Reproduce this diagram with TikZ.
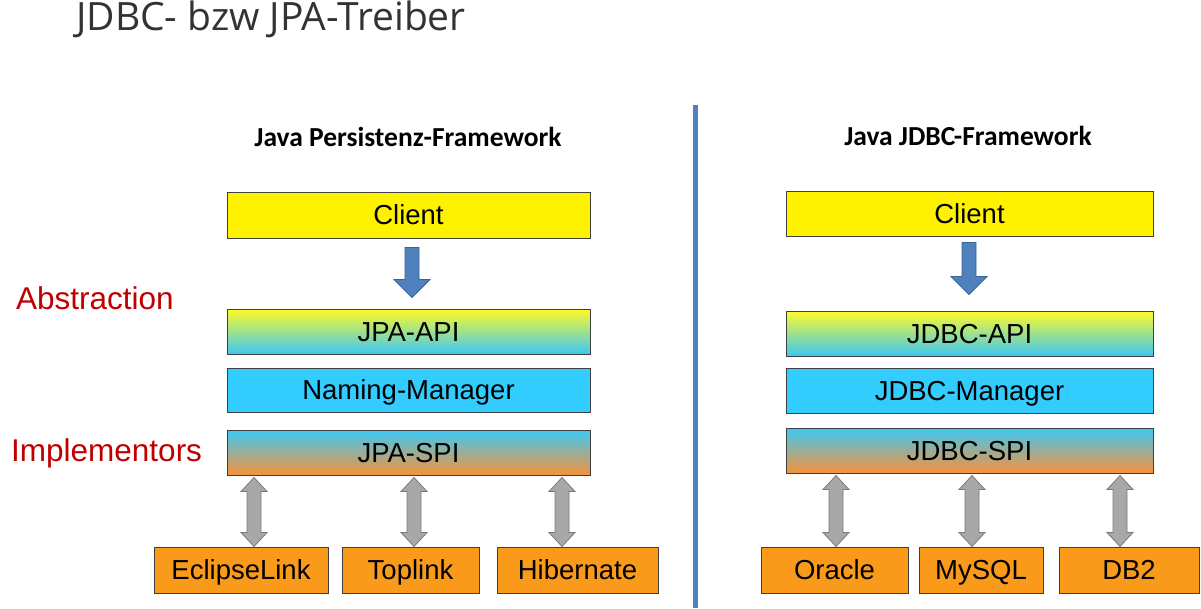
\documentclass[tikz,border=0pt]{standalone}
\usepackage{fontspec}
\setmainfont{Liberation Sans}
\newfontfamily\titlefont{Open Sans}
\newfontfamily\headfont{Carlito}
\usetikzlibrary{calc}
\definecolor{boxborder}{HTML}{404040}
\definecolor{skyblue}{HTML}{33CCFF}
\definecolor{orangebox}{HTML}{FA9A1A}
\definecolor{redlabel}{HTML}{C00000}
\definecolor{arrowblue}{HTML}{4F81BD}
\definecolor{arrowblueb}{HTML}{3A6496}
\definecolor{arrowgray}{HTML}{A8A8A8}
\definecolor{arrowgrayb}{HTML}{7A7A7A}
\definecolor{divider}{HTML}{4F81BD}
\definecolor{titlegray}{HTML}{333333}
\tikzset{
  layer/.style={draw=boxborder, line width=1pt, inner sep=0pt, text=black,
    font=\fontsize{27.5}{32}\selectfont, text height=19.7pt, text depth=0pt},
  yellowbox/.style={layer, fill=yellow},
  apibox/.style={layer, top color={rgb,255:red,255;green,250;blue,40},
    middle color={rgb,255:red,175;green,232;blue,205},
    bottom color={rgb,255:red,60;green,200;blue,245}},
  bluebox/.style={layer, fill=skyblue},
  spibox/.style={layer, top color={rgb,255:red,60;green,200;blue,245},
    middle color={rgb,255:red,200;green,170;blue,160},
    bottom color={rgb,255:red,248;green,146;blue,58}},
  implbox/.style={layer, fill=orangebox},
  sidelabel/.style={anchor=west, text=redlabel, inner sep=0pt,
    font=\fontsize{31.5}{36}\selectfont},
  header/.style={font=\headfont\bfseries\fontsize{27.5}{32}\selectfont, inner sep=0pt},
  grayarrow/.style={fill=arrowgray, draw=arrowgrayb, line width=0.8pt, line join=miter},
  bluearrow/.style={fill=arrowblue, draw=arrowblueb, line width=0.8pt, line join=miter}
}
% fat double arrow between two named coordinates (top, bottom)
\newcommand\fatdbl[2]{%
  \draw[grayarrow] (#1) -- ($(#1)+(13,14)$) -- ($(#1)+(7,14)$) -- ($(#2)+(7,-14)$)
    -- ($(#2)+(13,-14)$) -- (#2) -- ($(#2)+(-13,-14)$) -- ($(#2)+(-7,-14)$)
    -- ($(#1)+(-7,14)$) -- ($(#1)+(-13,14)$) -- cycle;}
% fat down arrow between two named coordinates (top of shaft, tip)
\newcommand\fatdown[2]{%
  \draw[bluearrow] ($(#1)+(-7,0)$) -- ($(#1)+(7,0)$) -- ($(#2)+(7,-18)$)
    -- ($(#2)+(18,-18)$) -- (#2) -- ($(#2)+(-18,-18)$) -- ($(#2)+(-7,-18)$) -- cycle;}
\begin{document}
\begin{tikzpicture}[x=1pt,y=-1pt]
\useasboundingbox[fill=white] (0,0) rectangle (1201,608);

% main title
\node[anchor=west, inner sep=0pt, text=titlegray,
  font=\titlefont\fontsize{39}{44}\selectfont] (title) at (76,19) {JDBC- bzw JPA-Treiber};

% divider
\coordinate (divtop) at (695,105);
\coordinate (divbot) at (695,608);
\draw[divider, line width=5pt] (divtop) -- (divbot);

% ---------- left panel ----------
\node[header] (lhead) at (408,137) {Java Persistenz-Framework};
\node[yellowbox, minimum width=363pt, minimum height=46pt] (lclient) at (408.5,215) {Client};
\node[apibox, minimum width=363pt, minimum height=45pt] (lapi) at (408.5,331.5) {JPA-API};
\node[bluebox, minimum width=363pt, minimum height=44pt] (lman) at (408.5,390) {Naming-Manager};
\node[spibox, minimum width=363pt, minimum height=45pt] (lspi) at (408.5,452.5) {JPA-SPI};

\node[implbox, minimum width=174pt, minimum height=46pt] (lecl) at (241,570) {EclipseLink};
\node[implbox, minimum width=137pt, minimum height=46pt] (ltop) at (410.5,570) {Toplink};
\node[implbox, minimum width=161pt, minimum height=46pt] (lhib) at (577.5,570) {Hibernate};

\node[sidelabel] (abstr) at (16,298) {Abstraction};
\node[sidelabel] (impl) at (11,453) {Implementors};

\coordinate (lbA) at ($(412,0 |- lclient.south)+(0,9)$);
\coordinate (lbB) at ($(412,0 |- lapi.north)+(0,-11)$);
\fatdown{lbA}{lbB}

\coordinate (la1) at ($(254,0 |- lspi.south)+(0,2)$);
\coordinate (lb1) at (254,0 |- lecl.north);
\coordinate (la2) at ($(414,0 |- lspi.south)+(0,2)$);
\coordinate (lb2) at (414,0 |- ltop.north);
\coordinate (la3) at ($(562,0 |- lspi.south)+(0,2)$);
\coordinate (lb3) at (562,0 |- lhib.north);
\fatdbl{la1}{lb1}
\fatdbl{la2}{lb2}
\fatdbl{la3}{lb3}

% ---------- right panel ----------
\node[header] (rhead) at (968,136) {Java JDBC-Framework};
\node[yellowbox, minimum width=367pt, minimum height=45pt] (rclient) at (969.5,213.5) {Client};
\node[apibox, minimum width=367pt, minimum height=45pt] (rapi) at (969.5,333.5) {JDBC-API};
\node[bluebox, minimum width=367pt, minimum height=45pt] (rman) at (969.5,390.5) {JDBC-Manager};
\node[spibox, minimum width=367pt, minimum height=45pt] (rspi) at (969.5,450.5) {JDBC-SPI};

\node[implbox, minimum width=147pt, minimum height=46pt] (rora) at (834.5,570) {Oracle};
\node[implbox, minimum width=124pt, minimum height=46pt] (rmys) at (981,570) {MySQL};
\node[implbox, minimum width=140pt, minimum height=46pt] (rdb2) at (1129,570) {DB2};

\coordinate (rbA) at ($(969,0 |- rclient.south)+(0,6)$);
\coordinate (rbB) at ($(969,0 |- rapi.north)+(0,-16)$);
\fatdown{rbA}{rbB}

\coordinate (ra1) at ($(836,0 |- rspi.south)+(0,2)$);
\coordinate (rb1) at (836,0 |- rora.north);
\coordinate (ra2) at ($(972,0 |- rspi.south)+(0,2)$);
\coordinate (rb2) at (972,0 |- rmys.north);
\coordinate (ra3) at ($(1120,0 |- rspi.south)+(0,2)$);
\coordinate (rb3) at (1120,0 |- rdb2.north);
\fatdbl{ra1}{rb1}
\fatdbl{ra2}{rb2}
\fatdbl{ra3}{rb3}
\end{tikzpicture}
\end{document}
